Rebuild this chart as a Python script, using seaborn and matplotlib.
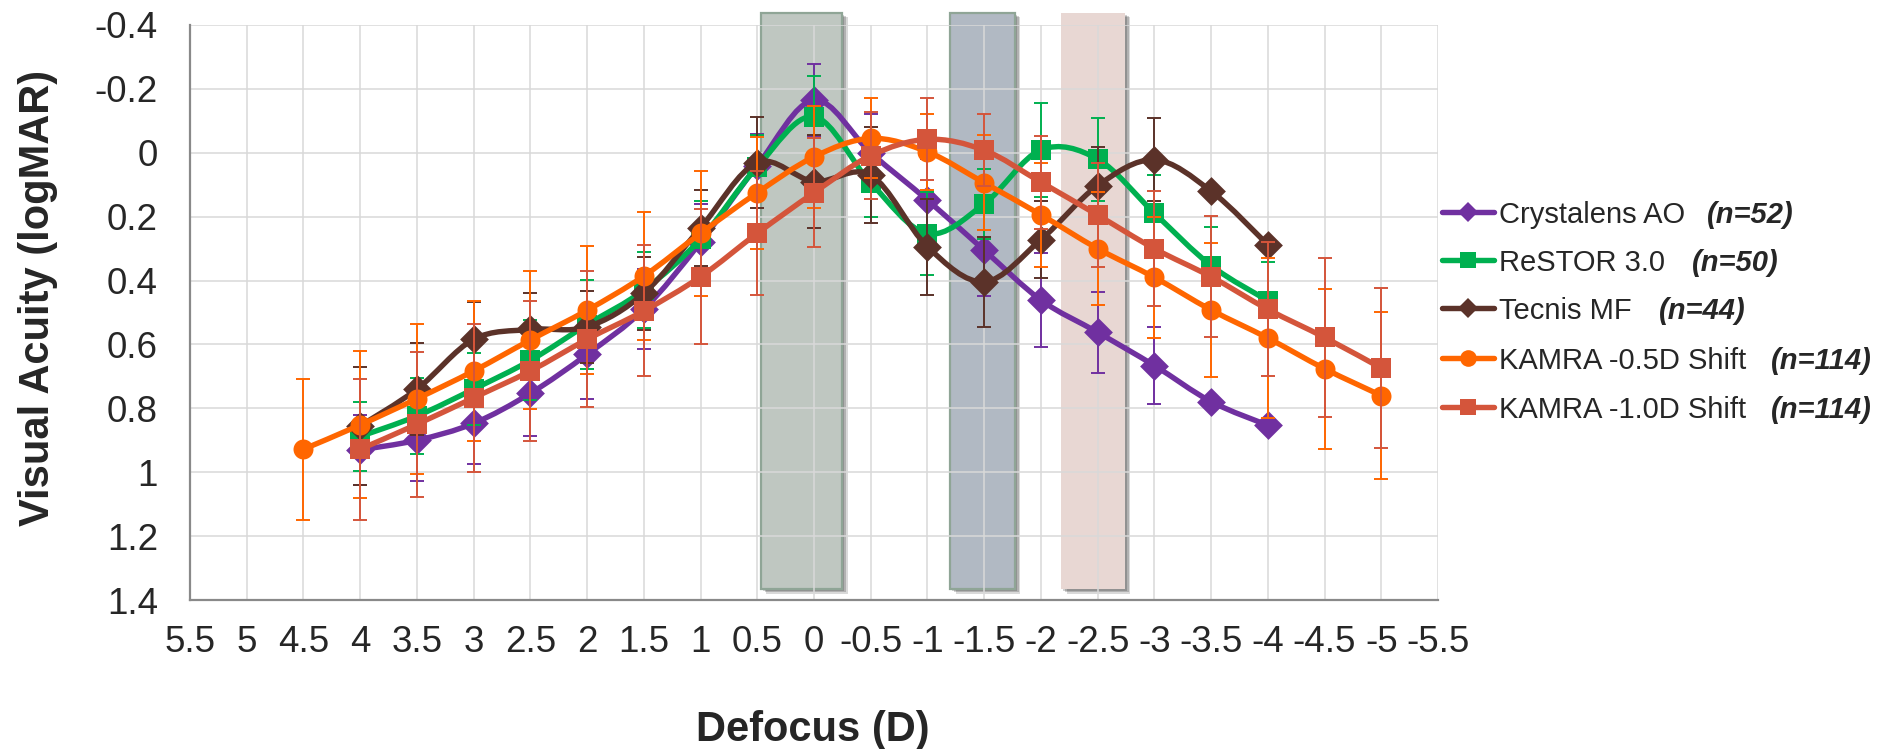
import numpy as np
import pandas as pd
import matplotlib
matplotlib.use("Agg")
import matplotlib.pyplot as plt
import seaborn as sns
from matplotlib.path import Path
from matplotlib.patches import PathPatch, Rectangle
from matplotlib.lines import Line2D
import matplotlib.patheffects as pe

# ---------------- data ----------------
defocus_main = [4, 3.5, 3, 2.5, 2, 1.5, 1, 0.5, 0, -0.5, -1, -1.5, -2, -2.5, -3, -3.5, -4]
defocus_k05 = [4.5, 4, 3.5, 3, 2.5, 2, 1.5, 1, 0.5, 0, -0.5, -1, -1.5, -2, -2.5, -3, -3.5, -4, -4.5, -5]
defocus_k10 = [4, 3.5, 3, 2.5, 2, 1.5, 1, 0.5, 0, -0.5, -1, -1.5, -2, -2.5, -3, -3.5, -4, -4.5, -5]

crystalens_va = [0.93, 0.90, 0.847, 0.753, 0.631, 0.49, 0.28, 0.04, -0.165, 0.0, 0.148, 0.305,
                 0.461, 0.562, 0.666, 0.779, 0.853]
crystalens_err = [0.11, 0.128, 0.128, 0.134, 0.141, 0.125, 0.12, 0.10, 0.112, 0.12, 0.13, 0.144,
                  0.146, 0.126, 0.12, np.nan, np.nan]

restor_va = [0.888, 0.824, 0.74, 0.65, 0.538, 0.43, 0.27, 0.044, -0.113, 0.094, 0.253, 0.16,
             -0.009, 0.02, 0.189, 0.353, 0.463]
restor_err = [0.108, 0.12, 0.112, 0.125, 0.14, 0.12, 0.12, 0.10, 0.127, 0.106, 0.13, 0.11,
              0.147, 0.13, 0.12, 0.12, 0.12]

tecnis_va = [0.855, 0.74, 0.584, 0.553, 0.545, 0.44, 0.235, 0.031, 0.09, 0.07, 0.294, 0.404,
             0.272, 0.103, 0.022, 0.12, 0.288]
tecnis_err = [0.185, 0.145, 0.116, 0.114, 0.113, 0.115, 0.12, 0.142, 0.145, 0.15, 0.15, 0.14,
              0.12, 0.12, 0.13, np.nan, np.nan]

kamra05_va = [0.928, 0.852, 0.770, 0.683, 0.586, 0.493, 0.386, 0.252, 0.125, 0.0125, -0.045, -0.003,
              0.094, 0.194, 0.300, 0.39, 0.492, 0.58, 0.676, 0.76]
kamra05_err = [0.22, 0.23, 0.235, 0.22, 0.215, 0.2, 0.2, 0.195, 0.175, 0.16, 0.125, 0.118,
               0.149, 0.163, 0.176, 0.19, 0.21, 0.25, 0.25, 0.26]

kamra10_va = [0.928, 0.85, 0.767, 0.683, 0.584, 0.495, 0.388, 0.252, 0.125, 0.009, -0.042, -0.008,
              0.092, 0.195, 0.300, 0.388, 0.49, 0.578, 0.674]
kamra10_err = [0.22, 0.226, 0.232, 0.22, 0.213, 0.205, 0.212, 0.194, 0.17, 0.137, 0.128, 0.113,
               0.146, 0.163, 0.18, 0.19, 0.21, 0.25, 0.25]

series_names = ["Crystalens AO", "ReSTOR 3.0", "Tecnis MF", "KAMRA -0.5D Shift", "KAMRA -1.0D Shift"]
series_n = ["(n=52)", "(n=50)", "(n=44)", "(n=114)", "(n=114)"]

# highlighted defocus ranges (D)
band_ranges = [(0.47, -0.25), (-1.2, -1.77), (-2.18, -2.74)]

x_ticks = [5.5, 5, 4.5, 4, 3.5, 3, 2.5, 2, 1.5, 1, 0.5, 0, -0.5, -1, -1.5, -2, -2.5, -3, -3.5, -4, -4.5, -5, -5.5]
y_ticks = [-0.4, -0.2, 0, 0.2, 0.4, 0.6, 0.8, 1.0, 1.2, 1.4]

# ---------------- styles ----------------
colors = ["#7030A0", "#00B050", "#5B3229", "#FF6600", "#D4553B"]
markers = ["D", "s", "D", "o", "s"]
msizes = [215, 207, 215, 207, 207]
band_faces = ["#BFC7C1", "#B1B9C3", "#E8D7D3"]
band_edges = ["#8FA596", "#8FA596", "none"]

sns.set_theme(style="white")
plt.rcParams["font.family"] = ["Liberation Sans", "DejaVu Sans"]
TXT = "#262626"

xs_list = [defocus_main, defocus_main, defocus_main, defocus_k05, defocus_k10]
ys_list = [crystalens_va, restor_va, tecnis_va, kamra05_va, kamra10_va]
es_list = [crystalens_err, restor_err, tecnis_err, kamra05_err, kamra10_err]

frames = []
for name, xs, ys, es in zip(series_names, xs_list, ys_list, es_list):
    frames.append(pd.DataFrame({"defocus": xs, "va": ys, "err": es, "lens": name}))
df = pd.concat(frames, ignore_index=True)

fig = plt.figure(figsize=(18.87, 7.49), dpi=100)
ax = fig.add_axes([190 / 1887, 1 - 600 / 749, (1438 - 190) / 1887, (600 - 25) / 749])

ax.set_xlim(5.5, -5.5)
ax.set_ylim(1.4, -0.4)


def smooth_path(xs, ys):
    P = np.column_stack([xs, ys]).astype(float)
    n = len(P)
    verts = [P[0]]
    codes = [Path.MOVETO]
    for i in range(n - 1):
        p0 = P[i - 1] if i > 0 else P[i]
        p1 = P[i]
        p2 = P[i + 1]
        p3 = P[i + 2] if i + 2 < n else P[i + 1]
        verts += [p1 + (p2 - p0) / 6.0, p2 - (p3 - p1) / 6.0, p2]
        codes += [Path.CURVE4] * 3
    return Path(verts, codes)


# shaded bands
shadow = [pe.SimplePatchShadow(offset=(o, -o * 0.8), shadow_rgbFace="#000000", alpha=a)
          for o, a in [(1.5, 0.18), (2.8, 0.18), (4.0, 0.15)]] + [pe.Normal()]
for (xa, xb), fc, ec in zip(band_ranges, band_faces, band_edges):
    r = Rectangle((min(xa, xb), -0.438), abs(xa - xb), 1.366 + 0.438,
                  facecolor=fc, edgecolor=ec, lw=1.6, zorder=0.2, clip_on=False)
    r.set_path_effects(shadow)
    ax.add_patch(r)

ax.set_axisbelow(True)
ax.grid(True, color="#D9D9D9", lw=1.1)

for k, name in enumerate(series_names):
    sub = df[df["lens"] == name]
    col = colors[k]
    ax.add_patch(PathPatch(smooth_path(sub["defocus"].values, sub["va"].values),
                           facecolor="none", edgecolor=col, lw=3.9,
                           capstyle="round", joinstyle="round", zorder=3 + k * 0.1))
    m = sub["err"].notna()
    ax.errorbar(sub["defocus"][m], sub["va"][m], yerr=sub["err"][m], fmt="none",
                ecolor=col, elinewidth=1.4, capsize=4.8, capthick=1.4, zorder=3.05 + k * 0.1)
    sns.scatterplot(data=sub, x="defocus", y="va", marker=markers[k], s=msizes[k],
                    color=col, linewidth=0, ax=ax, zorder=3.08 + k * 0.1, legend=False)


def fmt(v):
    s = f"{v:g}"
    return "0" if s in ("-0", "0") else s


ax.set_xticks(x_ticks)
ax.set_xticklabels([fmt(v) for v in x_ticks])
ax.set_yticks(y_ticks)
ax.set_yticklabels([fmt(v) for v in y_ticks])
ax.tick_params(axis="both", which="major", labelsize=26.5, labelcolor=TXT, color="#898989",
               length=8, width=1.3, direction="out")
ax.tick_params(axis="x", pad=10)
ax.tick_params(axis="y", pad=15)
for s in ["top", "right"]:
    ax.spines[s].set_visible(False)
for s in ["left", "bottom"]:
    ax.spines[s].set_color("#898989")
    ax.spines[s].set_linewidth(1.6)
ax.set_xlabel("")
ax.set_ylabel("")

fig.text(813 / 1887, 1 - 730 / 749, "Defocus (D)", ha="center", va="center",
         fontsize=30, fontweight="bold", color=TXT)
fig.text(38 / 1887, 1 - 298 / 749, "Visual Acuity (logMAR)", ha="center", va="center",
         rotation=90, fontsize=30, fontweight="bold", color=TXT)

# legend (manual, right side)
rows = [212, 260, 308, 358, 407]
n_x = [1707, 1692, 1659, 1771, 1771]
leg_ms = [10, 11.5, 10, 12, 11.5]
for k, name in enumerate(series_names):
    yf = 1 - rows[k] / 749
    fig.add_artist(Line2D([1442 / 1887, 1494 / 1887], [yf, yf], transform=fig.transFigure,
                          color=colors[k], lw=3.9, solid_capstyle="round"))
    fig.add_artist(Line2D([1468 / 1887], [yf], transform=fig.transFigure, marker=markers[k],
                          markersize=leg_ms[k], color=colors[k], markeredgewidth=0, lw=0))
    fig.text(1499 / 1887, yf, name, ha="left", va="center_baseline", fontsize=21, color=TXT)
    fig.text(n_x[k] / 1887, yf, series_n[k], ha="left", va="center_baseline", fontsize=21,
             fontweight="bold", fontstyle="italic", color=TXT)

fig.savefig("out.png", dpi=100)
